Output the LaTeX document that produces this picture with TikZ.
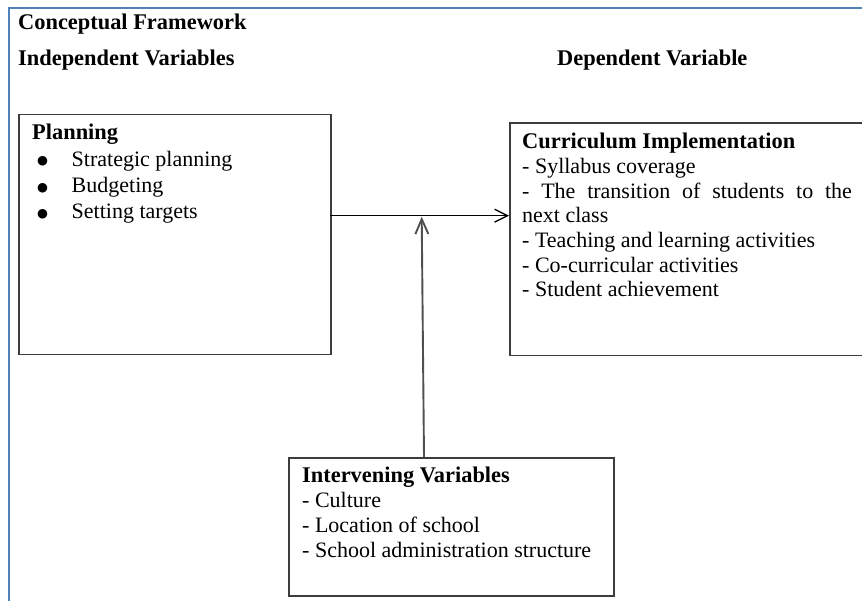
\documentclass[tikz,border=0pt]{standalone}
\usepackage{fontspec}
\setmainfont{Liberation Serif}
\newfontfamily\symfont{DejaVu Sans}
\usetikzlibrary{arrows.meta}
\definecolor{frameblue}{HTML}{4F81BD}
\definecolor{boxgray}{HTML}{3C3C3C}
\definecolor{arrowgray}{HTML}{505050}
\begin{document}
\begin{tikzpicture}[x=1pt,y=-1pt,
  txt/.style={anchor=base west, inner sep=0pt, font=\fontsize{22pt}{25pt}\selectfont},
  hd/.style={anchor=base west, inner sep=0pt, font=\fontsize{22.4pt}{25pt}\selectfont\bfseries},
  bul/.style={anchor=center, inner sep=0pt, font=\symfont\fontsize{12.5pt}{13pt}\selectfont},
  box/.style={draw=boxgray, line width=1.5pt, anchor=north west, inner sep=0pt},
  hconn/.style={line width=1.3pt, -{Straight Barb[length=13pt,width=13pt,line width=1.3pt]}},
  vconn/.style={draw=arrowgray, line width=1.9pt, -{Straight Barb[length=15pt,width=13pt,line width=1.9pt]}}]
\useasboundingbox (0,0) rectangle (862,601);
\clip (0,0) rectangle (862,601);
\fill[white] (0,0) rectangle (862,601);
\draw[frameblue, line width=2pt] (9,640) -- (9,8) -- (900,8);
% titles
\node[hd] (title) at (18,30) {Conceptual Framework};
\node[hd] (indep) at (18,66) {Independent Variables};
\node[hd] (dep) at (557,66) {Dependent Variable};
% boxes
\node[box, minimum width=312pt, minimum height=240pt] (plan) at (18,114) {};
\node[box, minimum width=360pt, minimum height=232.5pt] (cur) at (509,122.5) {};
\node[box, minimum width=325pt, minimum height=138pt] (inter) at (288,457) {};
% planning text
\node[hd] (planh) at (32,140) {Planning};
\node[bul] (b1) at (42.7,161.7) {●};
\node[txt] (p1) at (71.5,166.5) {Strategic planning};
\node[bul] (b2) at (42.7,188) {●};
\node[txt] (p2) at (71.5,192.8) {Budgeting};
\node[bul] (b3) at (42.7,214.2) {●};
\node[txt] (p3) at (71.5,219) {Setting targets};
% curriculum text
\node[hd] (curh) at (522,149) {Curriculum Implementation};
\node[txt] (c1) at (522,173.7) {- Syllabus coverage};
\node[txt] (c2) at (522,198.4) {\makebox[329.7pt][s]{- The transition of students to the}};
\node[txt] (c3) at (522,223) {next class};
\node[txt] (c4) at (522,247.7) {- Teaching and learning activities};
\node[txt] (c5) at (522,272.4) {- Co-curricular activities};
\node[txt] (c6) at (522,297) {- Student achievement};
% intervening text
\node[hd] (interh) at (302,482) {Intervening Variables};
\node[txt] (i1) at (302,507) {- Culture};
\node[txt] (i2) at (302,532) {- Location of school};
\node[txt] (i3) at (302,557) {- School administration structure};
% connectors
\coordinate (hstart) at (330,215.7);
\draw[hconn] (hstart) -- (hstart -| cur.west);
\coordinate (vstart) at (424,457);
\coordinate (vend) at (421.7,216.7);
\draw[vconn] (vstart) -- (vend);
\end{tikzpicture}
\end{document}
